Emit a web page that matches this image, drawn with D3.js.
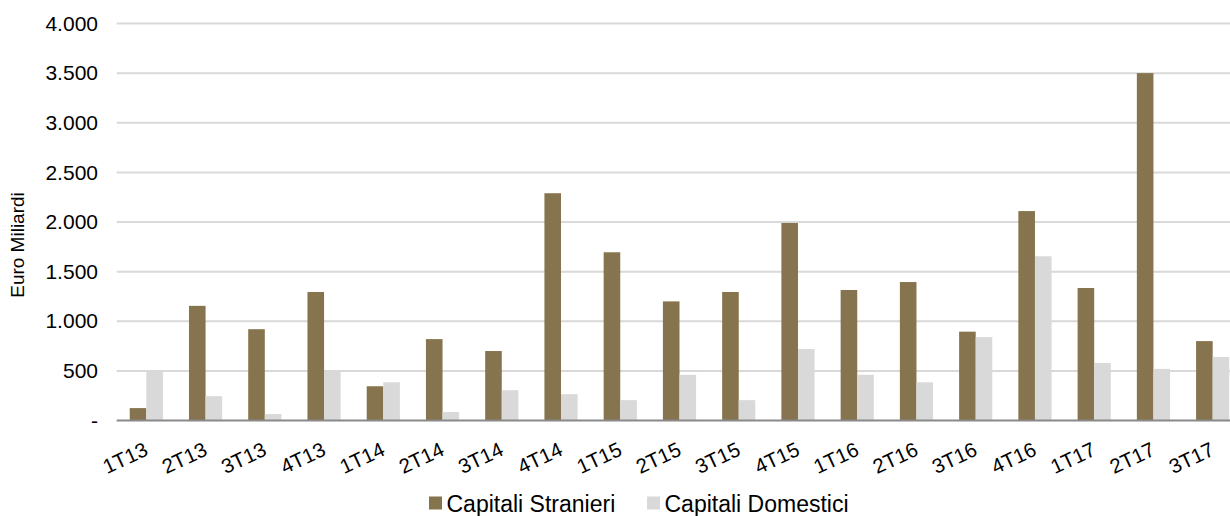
<!DOCTYPE html>
<html>
<head>
<meta charset="utf-8">
<script src="https://cdn.jsdelivr.net/npm/d3@7"></script>
<style>
  html, body { margin: 0; padding: 0; background: #fff; }
  svg { display: block; font-family: "Liberation Sans", Arial, sans-serif; }
</style>
</head>
<body>
<svg id="chart" width="1230" height="516"></svg>
<script>
// Quarterly capital flows, billions of euro
const quarters = ["1T13","2T13","3T13","4T13","1T14","2T14","3T14","4T14","1T15","2T15",
                  "3T15","4T15","1T16","2T16","3T16","4T16","1T17","2T17","3T17"];
const capitaliStranieri = [125, 1155, 920, 1295, 345, 820, 700, 2290, 1695, 1200,
                           1295, 1990, 1315, 1395, 895, 2110, 1335, 3500, 800];
const capitaliDomestici = [500, 245, 65, 500, 385, 85, 305, 265, 205, 460,
                           205, 720, 460, 385, 840, 1655, 580, 520, 640];
const seriesNames = ["Capitali Stranieri", "Capitali Domestici"];
const yTicks = [0, 500, 1000, 1500, 2000, 2500, 3000, 3500, 4000];
const yTitle = "Euro Miliardi";

const colors = ["#85744d", "#d9d9d9"];

const svg = d3.select("#chart");
const plot = { left: 116.7, right: 1242.3, top: 23.5, bottom: 420.5 };

const x = d3.scaleBand().domain(quarters).range([plot.left, plot.right]).paddingInner(0.44).paddingOuter(0.22);
const xs = d3.scaleBand().domain([0, 1]).range([0, x.bandwidth()]);
const y = d3.scaleLinear().domain([0, 4000]).range([plot.bottom, plot.top]);

const fmt = v => v === 0 ? "-" : d3.format(",")(v).replace(/,/g, ".");

// horizontal gridlines
svg.append("g").selectAll("line").data(yTicks.filter(t => t > 0)).join("line")
  .attr("x1", plot.left).attr("x2", 1230)
  .attr("y1", d => y(d)).attr("y2", d => y(d))
  .attr("stroke", "#d9d9d9").attr("stroke-width", 2);

// y axis labels
const yAxis = d3.axisLeft(y).tickValues(yTicks).tickFormat(fmt).tickSize(0).tickPadding(0);
const gy = svg.append("g").attr("transform", `translate(98,0)`).call(yAxis);
gy.select(".domain").remove();
gy.selectAll("text").attr("font-size", 21).attr("fill", "#000").attr("font-family", "Liberation Sans, Arial, sans-serif");

// bars
const series = [capitaliStranieri, capitaliDomestici];
series.forEach((vals, si) => {
  svg.append("g").selectAll("rect").data(vals).join("rect")
    .attr("x", (d, i) => x(quarters[i]) + xs(si))
    .attr("width", xs.bandwidth())
    .attr("y", d => y(d))
    .attr("height", d => y(0) - y(d))
    .attr("fill", colors[si]);
});

// baseline
svg.append("line").attr("x1", plot.left).attr("x2", 1230)
  .attr("y1", y(0)).attr("y2", y(0))
  .attr("stroke", "#898989").attr("stroke-width", 2);

// x axis labels
const xAxis = d3.axisBottom(x).tickSize(0).tickPadding(0);
const gx = svg.append("g").attr("transform", `translate(0,${plot.bottom})`).call(xAxis);
gx.select(".domain").remove();
gx.selectAll("text")
  .attr("font-size", 20.5).attr("fill", "#000").attr("font-family", "Liberation Sans, Arial, sans-serif")
  .attr("text-anchor", "end").attr("dy", null).attr("y", 0)
  .attr("transform", "translate(3,34) rotate(-25)");

// y title
svg.append("text")
  .attr("transform", "translate(24,245) rotate(-90)")
  .attr("text-anchor", "middle")
  .attr("font-size", 19)
  .text(yTitle);

// legend
const legend = svg.append("g");
const legendX = [429, 647];
seriesNames.forEach((name, i) => {
  legend.append("rect").attr("x", legendX[i]).attr("y", 496.5).attr("width", 13).attr("height", 13).attr("fill", colors[i]);
  legend.append("text").attr("x", legendX[i] + 17.5).attr("y", 512).attr("font-size", 23).text(name);
});
</script>
</body>
</html>
